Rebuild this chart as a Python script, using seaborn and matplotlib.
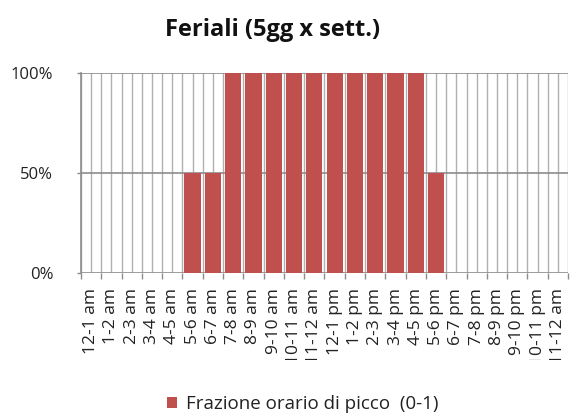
import matplotlib
matplotlib.use("Agg")
import matplotlib.pyplot as plt
import seaborn as sns
import pandas as pd
import numpy as np
from matplotlib.transforms import Bbox, TransformedBbox
from matplotlib.ticker import FixedLocator, PercentFormatter

categories = ["12-1 am", "1-2 am", "2-3 am", "3-4 am", "4-5 am", "5-6 am",
              "6-7 am", "7-8 am", "8-9 am", "9-10 am", "10-11 am", "11-12 am",
              "12-1 pm", "1-2 pm", "2-3 pm", "3-4 pm", "4-5 pm", "5-6 pm",
              "6-7 pm", "7-8 pm", "8-9 pm", "9-10 pm", "10-11 pm", "11-12 am"]
values = [0, 0, 0, 0, 0, 0.5, 0.5, 1, 1, 1, 1, 1,
          1, 1, 1, 1, 1, 0.5, 0, 0, 0, 0, 0, 0]
series_name = "Frazione orario di picco  (0-1)"
title = "Feriali (5gg x sett.)"
ytick_values = [0, 0.5, 1.0]

sns.set_theme(style="white")
plt.rcParams['font.family'] = ['Open Sans', 'DejaVu Sans']

n = len(categories)
df = pd.DataFrame({"pos": list(range(n)), "val": values})

fig = plt.figure(figsize=(5.75, 4.15), dpi=100)
ax = fig.add_axes([81/575, 1-273/415, (568-81)/575, (273-73)/415])

grid_c = "#b0b0b0"
sns.barplot(data=df, x="pos", y="val", color="#C0504D", width=0.8,
            saturation=1, ax=ax, zorder=3, edgecolor="none", errorbar=None)

ax.set_xlim(-0.5, n - 0.5)
ax.set_ylim(0, 1)
for b in np.arange(-0.5, n, 0.5):
    ax.axvline(b, color=grid_c, lw=1.0, zorder=1)
for yv in ytick_values:
    ax.axhline(yv, color="#8c8c8c", lw=1.2, zorder=2)

ax.set_yticks(ytick_values)
ax.yaxis.set_major_formatter(PercentFormatter(1.0, decimals=0))
ax.set_xticks(range(n))
ax.set_xticklabels(categories, rotation=90, fontsize=12.5)
ax.xaxis.set_minor_locator(FixedLocator(np.arange(-0.5, n, 1.0)))
ax.tick_params(axis="x", which="major", length=0, pad=11)
ax.tick_params(axis="x", which="minor", length=4, color="#8c8c8c", width=1, bottom=True)
ax.tick_params(axis="y", length=3, color="#8c8c8c", width=1, left=True, labelsize=12, pad=17)
for lab in ax.get_yticklabels():
    lab.set_color("#222222")
for lab in ax.get_xticklabels():
    lab.set_color("#222222")
ax.set_xlabel("")
ax.set_ylabel("")
for s in ["top", "right", "bottom"]:
    ax.spines[s].set_visible(False)
ax.spines["left"].set_color("#8c8c8c")
ax.spines["left"].set_linewidth(1.2)

fig.text(272.5/575, 1 - 30/415, title, ha="center", va="center", fontsize=17,
         fontweight="bold", color="#111111")

bars = ax.patches[0]
leg = fig.legend([bars], [series_name], loc="center", bbox_to_anchor=(303/575, 1 - 404/415),
                 frameon=False, fontsize=13.5, handlelength=0.5, handleheight=0.5,
                 handletextpad=0.5, borderpad=0, borderaxespad=0)
for t in leg.get_texts():
    t.set_color("#222222")

fig.canvas.draw()
clip = TransformedBbox(Bbox([[0, 1 - 360/415], [1, 1]]), fig.transFigure)
for lab in ax.get_xticklabels():
    lab.set_clip_box(clip)
    lab.set_clip_on(True)

fig.savefig("out.png", dpi=100)
